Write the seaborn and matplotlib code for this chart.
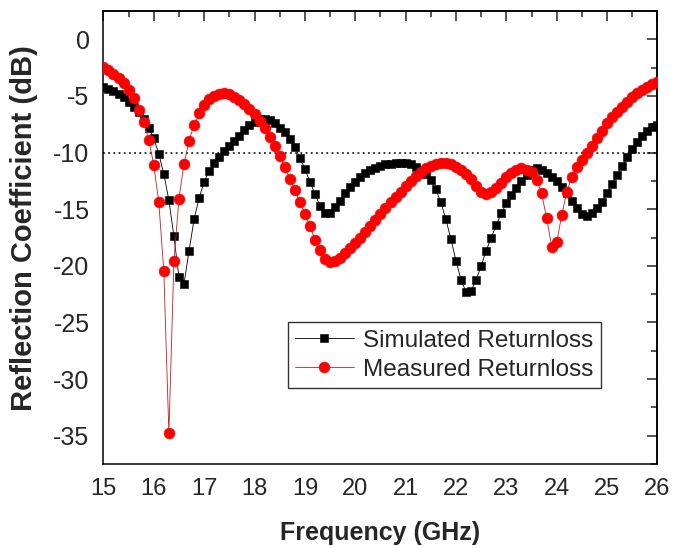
import numpy as np
import pandas as pd
import matplotlib
matplotlib.use("Agg")
import matplotlib.pyplot as plt
import seaborn as sns
from matplotlib.ticker import MultipleLocator

# Frequency sweep (GHz)
freq = [round(15.0 + 0.1 * i, 1) for i in range(111)]

# Simulated return loss (dB)
simulated = [
    -4.2, -4.4, -4.6, -4.85, -5.1, -5.5, -5.95, -6.4, -7.0, -7.8,
    -8.75, -10.1, -11.9, -14.2, -17.4, -21.0, -21.6, -18.7, -15.9, -14.0,
    -12.6, -11.6, -10.95, -10.4, -9.9, -9.4, -8.95, -8.5, -8.05, -7.6,
    -7.3, -7.06, -7.02, -7.12, -7.4, -7.8, -8.2, -8.8, -9.5, -10.45,
    -11.45, -12.57, -13.66, -14.7, -15.3, -15.3, -14.8, -14.25, -13.6, -13.0,
    -12.57, -12.13, -11.77, -11.54, -11.33, -11.18, -11.05, -10.97, -10.92, -10.92,
    -10.95, -11.05, -11.25, -11.5, -11.85, -12.4, -13.25, -14.4, -15.9, -17.66,
    -19.55, -21.25, -22.3, -22.2, -21.25, -20.0, -18.66, -17.5, -16.4, -15.36,
    -14.48, -13.75, -13.1, -12.48, -11.95, -11.5, -11.4, -11.5, -11.77, -12.13,
    -12.48, -13.0, -13.6, -14.25, -14.92, -15.4, -15.6, -15.36, -14.92, -14.34,
    -13.6, -12.77, -11.98, -11.18, -10.4, -9.7, -9.04, -8.5, -8.09, -7.77,
    -7.56,
]

# Measured return loss (dB)
measured = [
    -2.4, -2.7, -3.06, -3.44, -3.9, -4.47, -5.2, -6.2, -7.3, -8.85,
    -11.1, -14.4, -20.5, -34.8, -19.6, -14.1, -11.0, -8.95, -7.56, -6.53,
    -5.8, -5.27, -4.97, -4.82, -4.76, -4.85, -5.06, -5.35, -5.7, -6.15,
    -6.62, -7.18, -7.85, -8.6, -9.4, -10.3, -11.3, -12.3, -13.3, -14.4,
    -15.4, -16.5, -17.7, -18.6, -19.4, -19.7, -19.6, -19.3, -18.9, -18.45,
    -18.0, -17.5, -17.0, -16.5, -15.95, -15.45, -14.9, -14.4, -13.95, -13.45,
    -12.95, -12.5, -12.07, -11.74, -11.4, -11.15, -11.0, -10.95, -10.95, -11.03,
    -11.24, -11.5, -11.9, -12.36, -12.95, -13.45, -13.66, -13.45, -13.1, -12.66,
    -12.2, -11.8, -11.5, -11.4, -11.5, -11.7, -12.4, -13.6, -15.8, -18.3,
    -17.9, -15.5, -13.45, -12.15, -11.3, -10.7, -10.06, -9.4, -8.74, -8.07,
    -7.4, -6.9, -6.4, -5.95, -5.5, -5.1, -4.76, -4.47, -4.18, -3.94,
    -3.74,
]

x_ticks = list(range(15, 27))
y_ticks = [0, -5, -10, -15, -20, -25, -30, -35]
threshold = -10

sns.set_style("white")
plt.rcParams["font.family"] = ["Liberation Sans", "DejaVu Sans"]
plt.rcParams["axes.unicode_minus"] = False

df = pd.DataFrame({"freq": freq, "sim": simulated, "meas": measured})

fig = plt.figure(figsize=(6.74, 5.48), dpi=100)
ax = fig.add_axes([0.1534, 0.1533, 0.8221, 0.8266])

sns.lineplot(data=df, x="freq", y="sim", ax=ax, color="black", lw=0.6,
             marker="s", markersize=6.3, markeredgewidth=0.4,
             markeredgecolor="black", markerfacecolor="black",
             label="Simulated Returnloss", zorder=3)
sns.lineplot(data=df, x="freq", y="meas", ax=ax, color="#c02020", lw=0.6,
             marker="o", markersize=7.8, markeredgewidth=0.4,
             markeredgecolor="#ff0000", markerfacecolor="#ff0000",
             label="Measured Returnloss", zorder=4)

ax.axhline(threshold, color="black", lw=1.1, ls=(0, (1.2, 2.2)), zorder=2)

ax.set_xlim(15, 26)
ax.set_ylim(-37.5, 2.5)
ax.set_xticks(x_ticks)
ax.set_yticks(y_ticks)
ax.xaxis.set_minor_locator(MultipleLocator(0.5))
ax.yaxis.set_minor_locator(MultipleLocator(2.5))

ax.tick_params(axis="both", which="major", direction="out", length=7,
               width=1.1, labelsize=17, color="black", pad=3)
ax.tick_params(axis="y", which="major", labelsize=18)
ax.tick_params(axis="both", which="minor", direction="out", length=4,
               width=1.1, color="black")

# inward ticks along the top and right edges
top = ax.secondary_xaxis("top")
top.set_xticks(x_ticks)
top.xaxis.set_minor_locator(MultipleLocator(0.5))
top.tick_params(which="major", direction="in", length=7, width=1.1, labeltop=False)
top.tick_params(which="minor", direction="in", length=4, width=1.1)
right = ax.secondary_yaxis("right")
right.set_yticks(y_ticks)
right.yaxis.set_minor_locator(MultipleLocator(2.5))
right.tick_params(which="major", direction="in", length=7, width=1.1, labelright=False)
right.tick_params(which="minor", direction="in", length=4, width=1.1)

for s in list(ax.spines.values()) + [top.spines["top"], right.spines["right"]]:
    s.set_linewidth(1.1)
    s.set_color("black")

ax.set_xlabel("Frequency (GHz)", fontsize=18, fontweight="bold", labelpad=15)
ax.set_ylabel("Reflection Coefficient (dB)", fontsize=21, fontweight="bold")
ax.yaxis.set_label_coords(-0.118, 0.52)

leg = ax.legend(loc="upper left", bbox_to_anchor=(0.333, 0.313), borderaxespad=0,
                fontsize=17.5, frameon=True, fancybox=False, edgecolor="black",
                handlelength=2.4, handletextpad=0.4, borderpad=0.3,
                labelspacing=0.3)
leg.get_frame().set_linewidth(1.0)

fig.savefig("out.png", dpi=100)
